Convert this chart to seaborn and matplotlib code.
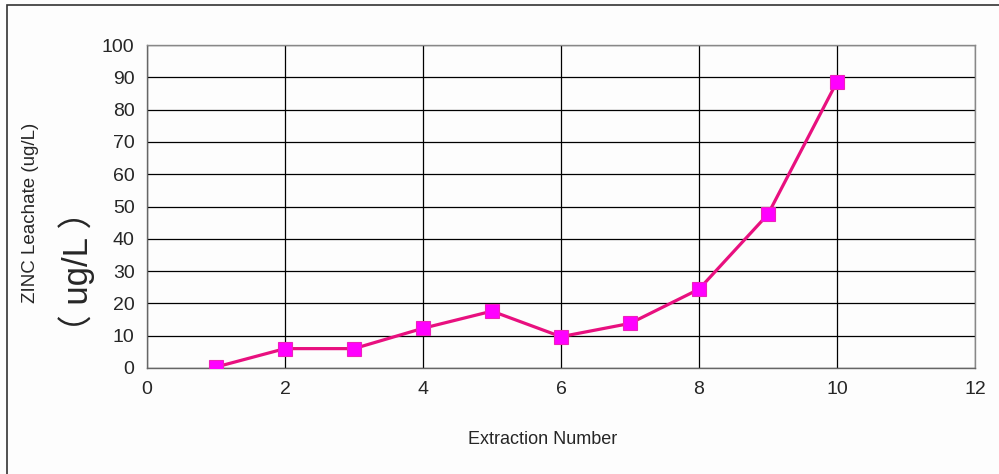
import numpy as np
import pandas as pd
import seaborn as sns
import matplotlib.pyplot as plt
from matplotlib.patches import Rectangle

# data
extraction = [1, 2, 3, 4, 5, 6, 7, 8, 9, 10]
zinc = [0.3, 6.0, 6.0, 12.3, 17.6, 9.7, 13.8, 24.4, 47.6, 88.6]

xticks = [0, 2, 4, 6, 8, 10, 12]
yticks = list(range(0, 101, 10))

df = pd.DataFrame({"Extraction Number": extraction, "Zinc": zinc})

sns.set_style("white")
plt.rcParams['font.family'] = ['Liberation Sans', 'Noto Sans CJK SC', 'DejaVu Sans']

fig = plt.figure(figsize=(9.99, 4.74), dpi=100, facecolor="#fdfdfd")
ax = fig.add_axes([147/999, 1 - 368/474, (975 - 147)/999, (368 - 45)/474])
ax.set_facecolor("#fdfdfd")

sns.lineplot(data=df, x="Extraction Number", y="Zinc", ax=ax,
             color="#e8107f", linewidth=2.3, marker="s", markersize=10,
             markerfacecolor="#ff00ff", markeredgecolor="#ee22bb",
             markeredgewidth=0.8, zorder=5)

ax.set_xlim(0, 12)
ax.set_ylim(0, 100)
ax.set_xticks(xticks)
ax.set_yticks(yticks)
ax.tick_params(axis="both", labelsize=14, direction="out", length=5,
               width=1, color="black", pad=4)
ax.grid(True, color="black", linewidth=0.9)
ax.set_axisbelow(True)

for side in ["top", "right"]:
    ax.spines[side].set_color("#888888")
    ax.spines[side].set_linewidth(1)
for side in ["left", "bottom"]:
    ax.spines[side].set_color("#666666")
    ax.spines[side].set_linewidth(1)

ax.set_xlabel("")
ax.set_ylabel("")
fig.text(543/999, 1 - 440/474, "Extraction Number", ha="center", va="center",
         fontsize=13)
fig.text(31/999, 1 - 213/474, "ZINC Leachate (ug/L)", rotation=90,
         ha="center", va="center", fontsize=13.5)
fig.text(77/999, 1 - 271/474, "（ ug/L ）", rotation=90, ha="center",
         va="center", fontsize=25,
         family=['Liberation Sans', 'Noto Sans CJK SC'])

# outer frame
fig.patches.append(Rectangle((7/999, -0.02), 1.0, 1 - 5/474 + 0.02,
                             transform=fig.transFigure, fill=False,
                             edgecolor="#333333", linewidth=1.2))

plt.savefig("out.png", dpi=100, facecolor=fig.get_facecolor())
